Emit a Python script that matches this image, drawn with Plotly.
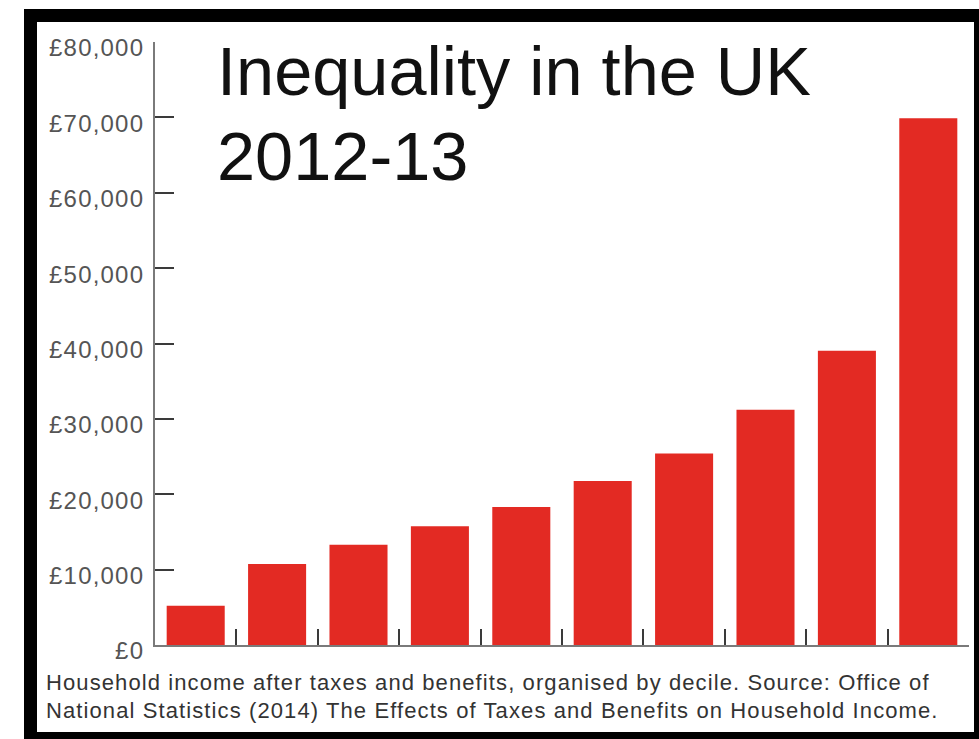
import plotly.graph_objects as go

# Household income after taxes and benefits, by decile (GBP), 2012-13
deciles = list(range(1, 11))
income = [5200, 10750, 13300, 15750, 18300, 21750, 25400, 31200, 39050, 69900]

y_tick_values = [0, 10000, 20000, 30000, 40000, 50000, 60000, 70000, 80000]
y_tick_labels = ["£0", "£10,000", "£20,000", "£30,000", "£40,000",
                 "£50,000", "£60,000", "£70,000", "£80,000"]

title_lines = ["Inequality in the UK", "2012-13"]
caption_lines = [
    "Household income after taxes and benefits, organised by decile. Source: Office of",
    "National Statistics (2014) The Effects of Taxes and Benefits on Household Income.",
]

W, H = 979, 739
PLOT_L, PLOT_R, PLOT_T, PLOT_B = 155, 969, 42, 645


def px_x(p):
    return (p - PLOT_L) / (PLOT_R - PLOT_L)


def px_y(p):
    return (PLOT_B - p) / (PLOT_B - PLOT_T)


def spaced(text, px):
    # widen the tracking a little, like the airy Helvetica setting
    return f'<span style="letter-spacing:{px}px">{text}</span>'


FONT = "Liberation Sans, Arial, Helvetica, sans-serif"
AXIS_GREY = "#7a7a7a"
TICK_DARK = "#3a3a3a"
RED = "#e32a23"

fig = go.Figure(
    go.Bar(
        x=deciles,
        y=income,
        marker=dict(color=RED, line=dict(width=0)),
        width=0.713,
        hoverinfo="skip",
    )
)

shapes = [
    # heavy black frame around the card
    dict(type="rect", xref="paper", yref="paper",
         x0=px_x(24), x1=px_x(990), y0=px_y(9), y1=px_y(760),
         fillcolor="black", line=dict(width=0), layer="below"),
    dict(type="rect", xref="paper", yref="paper",
         x0=px_x(37), x1=px_x(974), y0=px_y(22), y1=px_y(732),
         fillcolor="white", line=dict(width=0), layer="below"),
]

title_font = dict(family=FONT, size=68.5, color="#111111")
caption_font = dict(family=FONT, size=22, color="#333333")

annotations = [
    dict(text=title_lines[0], xref="paper", yref="paper",
         x=px_x(215), y=px_y(31), xanchor="left", yanchor="top",
         showarrow=False, font=title_font),
    dict(text=title_lines[1], xref="paper", yref="paper",
         x=px_x(215), y=px_y(116), xanchor="left", yanchor="top",
         showarrow=False, font=title_font),
    dict(text=spaced(caption_lines[0], 1.1), xref="paper", yref="paper",
         x=px_x(44), y=px_y(668), xanchor="left", yanchor="top", align="left",
         showarrow=False, font=caption_font),
    dict(text=spaced(caption_lines[1], 1.1), xref="paper", yref="paper",
         x=px_x(44), y=px_y(696), xanchor="left", yanchor="top", align="left",
         showarrow=False, font=caption_font),
]

fig.update_layout(
    width=W, height=H, autosize=False,
    margin=dict(l=PLOT_L, r=W - PLOT_R, t=PLOT_T, b=H - PLOT_B, pad=0),
    paper_bgcolor="white", plot_bgcolor="white",
    showlegend=False,
    shapes=shapes,
    annotations=annotations,
    xaxis=dict(
        range=[0.5, 10.5], tickmode="linear", tick0=0.5, dtick=1,
        ticks="inside", ticklen=16, tickwidth=2, tickcolor=TICK_DARK,
        showline=True, linecolor=AXIS_GREY, linewidth=2,
        showgrid=False, zeroline=False, showticklabels=False,
        fixedrange=True,
    ),
    yaxis=dict(
        range=[0, 80000], tickmode="array",
        tickvals=y_tick_values,
        ticktext=[spaced(t, 1.2) for t in y_tick_labels],
        ticks="inside", ticklen=19, tickwidth=2, tickcolor=TICK_DARK,
        showline=True, linecolor=AXIS_GREY, linewidth=2,
        showgrid=False, zeroline=False,
        tickfont=dict(family=FONT, size=24, color="#555555"),
        ticklabelshift=6, ticklabelstandoff=4,
        fixedrange=True,
    ),
)

fig.write_html("out.html", config={"displayModeBar": False})
